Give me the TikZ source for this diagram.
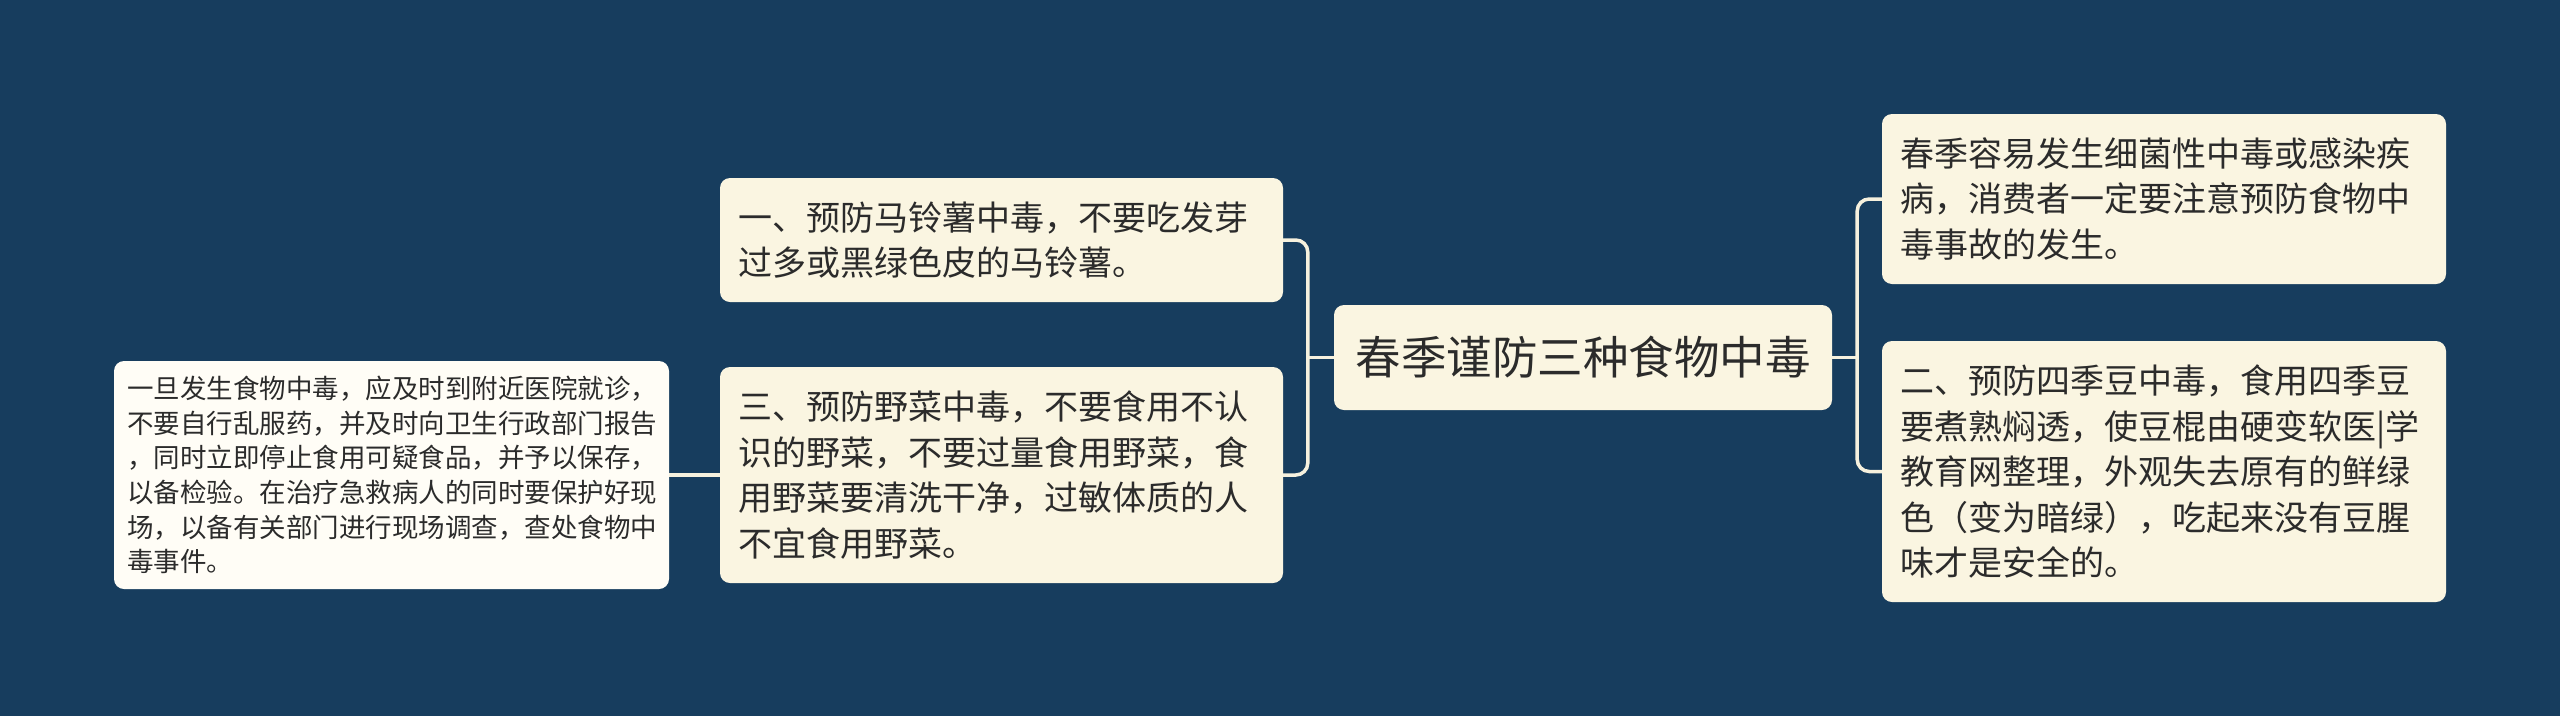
\documentclass[tikz,border=0pt]{standalone}
\usepackage{fontspec}
\setmainfont{Noto Sans CJK SC}
\definecolor{bg}{HTML}{173D5E}
\definecolor{cream}{HTML}{FAF5E1}
\definecolor{paper}{HTML}{FFFDF6}
\definecolor{ink}{HTML}{2B2B2B}
\definecolor{wire}{HTML}{F6F1DE}
\tikzset{
  box/.style={draw=none, fill=cream, rounded corners=10pt, text=ink, align=left, anchor=center,
    inner xsep=18pt, inner ysep=0pt},
  bigtext/.style={font=\fontsize{34pt}{45.5pt}\selectfont},
  smalltext/.style={font=\fontsize{26.5pt}{34.6pt}\selectfont},
  conn/.style={draw=wire, line width=3.5pt, rounded corners=12pt},
}
\begin{document}
\begin{tikzpicture}[x=1pt,y=-1pt]
\useasboundingbox (0,0) rectangle (2560,716);
\fill[bg] (0,0) rectangle (2560,716);

\node[box, font=\fontsize{45.5pt}{50pt}\selectfont, align=center, minimum width=498pt, minimum height=105pt, inner xsep=0pt] (root) at (1583,357.5) {春季谨防三种食物中毒};

\node[box, bigtext, minimum width=564pt, minimum height=170pt, text width=528pt] (r1) at (2164,199)
{春季容易发生细菌性中毒或感染疾\\病，消费者一定要注意预防食物中\\毒事故的发生。};

\node[box, bigtext, minimum width=564pt, minimum height=261pt, text width=528pt] (r2) at (2164,471.5)
{二、预防四季豆中毒，食用四季豆\\要煮熟焖透，使豆棍由硬变软医|学\\教育网整理，外观失去原有的鲜绿\\色（变为暗绿），吃起来没有豆腥\\味才是安全的。};

\node[box, bigtext, minimum width=563pt, minimum height=124pt, text width=527pt] (l1) at (1001.5,240)
{一、预防马铃薯中毒，不要吃发芽\\过多或黑绿色皮的马铃薯。};

\node[box, bigtext, minimum width=563pt, minimum height=216pt, text width=527pt] (l3) at (1001.5,475)
{三、预防野菜中毒，不要食用不认\\识的野菜，不要过量食用野菜，食\\用野菜要清洗干净，过敏体质的人\\不宜食用野菜。};

\node[box, smalltext, fill=paper, inner xsep=13pt, minimum width=555pt, minimum height=228pt, text width=529pt] (ll) at (391.5,475)
{一旦发生食物中毒，应及时到附近医院就诊，\\不要自行乱服药，并及时向卫生行政部门报告\\，同时立即停止食用可疑食品，并予以保存，\\以备检验。在治疗急救病人的同时要保护好现\\场，以备有关部门进行现场调查，查处食物中\\毒事件。};

\coordinate (jl) at ([xshift=-26pt]root.west);
\coordinate (jr) at ([xshift=25pt]root.east);

\draw[conn] (root.west) -- (jl);
\draw[conn] (l1.east) -- (l1.east -| jl) -- (l3.east -| jl) -- (l3.east);
\draw[conn] (root.east) -- (jr);
\draw[conn] (r1.west) -- (r1.west -| jr) -- (r2.west -| jr) -- (r2.west);
\draw[conn] (l3.west) -- (ll.east);
\end{tikzpicture}
\end{document}
